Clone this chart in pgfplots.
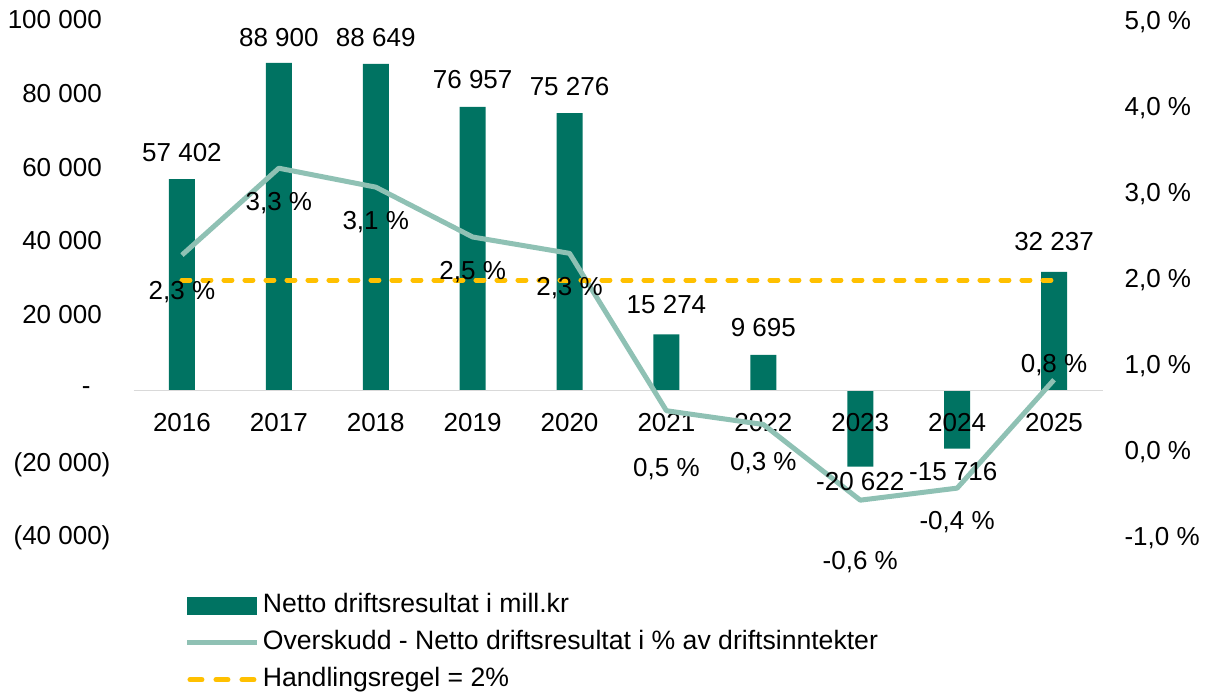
\documentclass[border=0pt]{standalone}
\usepackage{pgfplots}
\pgfplotsset{compat=1.18}
\usepackage{fontspec}
\setmainfont{Liberation Sans}
\definecolor{barc}{HTML}{007362}
\definecolor{linec}{HTML}{8FC1B4}
\definecolor{yel}{HTML}{FFC000}
\definecolor{axg}{HTML}{D9D9D9}
\pgfplotsset{
  dashlegend/.style={legend image code/.code={\draw[##1, dash pattern=on 6pt off 7pt] (1.25pt,0pt) -- (35pt,0pt);}},
  barlegend/.style={legend image code/.code={\fill[barc] (0pt,-4.5pt) rectangle (35pt,4.5pt);}},
  linelegend/.style={legend image code/.code={\draw[##1] (0pt,0pt) -- (35pt,0pt);}},
}
\begin{document}
\fontsize{13pt}{15.6pt}\selectfont
\begin{tikzpicture}
\useasboundingbox (0,0) rectangle (605.5pt,346.5pt);
\begin{axis}[
  at={(66.75pt,77.5pt)}, anchor=south west,
  width=484.5pt, height=258pt, scale only axis,
  xmin=-0.5, xmax=9.5, ymin=-40000, ymax=100000,
  scaled y ticks=false,
  axis on top,
  axis x line*=middle, axis y line*=left,
  x axis line style={-, draw=axg, line width=0.9pt},
  y axis line style={draw=none},
  tick style={draw=none}, major tick length=0pt,
  xtick={0,...,9},
  xticklabels={2016,2017,2018,2019,2020,2021,2022,2023,2024,2025},
  xticklabel style={yshift=-7pt},
  ytick={-40000,-20000,0,20000,40000,60000,80000,100000},
  yticklabels={(40 000),(20 000),{-\kern10pt},{20 000\phantom{)}},{40 000\phantom{)}},{60 000\phantom{)}},{80 000\phantom{)}},{100 000\phantom{)}}},
  yticklabel style={anchor=east, xshift=-7pt},
  ybar, bar width=13pt,
  clip=false,
]
\addplot[fill=barc, draw=none] coordinates {
  (0,57402) (1,88900) (2,88649) (3,76957) (4,75276)
  (5,15274) (6,9695) (7,-20622) (8,-15716) (9,32237)};
\end{axis}
\begin{axis}[
  at={(66.75pt,77.5pt)}, anchor=south west,
  width=484.5pt, height=258pt, scale only axis,
  xmin=-0.5, xmax=9.5, ymin=-1, ymax=5,
  axis x line=none, axis y line*=right,
  y axis line style={draw=none},
  tick style={draw=none}, major tick length=0pt,
  ytick={-1,0,1,2,3,4,5},
  yticklabels={{-1,0 \%},{0,0 \%},{1,0 \%},{2,0 \%},{3,0 \%},{4,0 \%},{5,0 \%}},
  yticklabel style={anchor=west, xshift=6.5pt},
  clip=false,
  legend style={at={(0.0531,-0.108)}, anchor=north west, draw=none, fill=none,
    inner sep=0pt, outer sep=0pt, row sep=6.5pt,
    font=\fontsize{13.3pt}{16pt}\selectfont,
    nodes={inner xsep=1.5pt, inner ysep=0pt, text height=9.5pt, text depth=2.5pt},
    /tikz/every odd column/.style={column sep=0pt}},
  legend cell align=left,
]
\addlegendimage{fill=barc, draw=none, barlegend}
\addlegendentry{Netto driftsresultat i mill.kr}
\addplot[linec, line width=2.5pt, line join=round, linelegend] coordinates {
  (0,2.29) (1,3.30) (2,3.08) (3,2.50) (4,2.31)
  (5,0.48) (6,0.32) (7,-0.56) (8,-0.42) (9,0.84)};
\addlegendentry{Overskudd - Netto driftsresultat i \% av driftsinntekter}
\addplot[yel, line width=2.5pt, line cap=round, dash pattern=on 4pt off 6.5pt, dashlegend] coordinates {(0,2) (9,2)};
\addlegendentry{Handlingsregel = 2\%}
% bar value labels
\node at (axis cs:0,3.477) {57 402};
\node at (axis cs:1,4.814) {88 900};
\node at (axis cs:2,4.814) {88 649};
\node at (axis cs:3,4.326) {76 957};
\node at (axis cs:4,4.244) {75 276};
\node at (axis cs:5,1.709) {15 274};
\node at (axis cs:6,1.453) {9 695};
\node at (axis cs:7,-0.349) {-20 622};
\node at (axis cs:7.96,-0.233) {-15 716};
\node at (axis cs:9,2.453) {32 237};
% percent labels
\node at (axis cs:0,1.860) {2,3 \%};
\node at (axis cs:1,2.895) {3,3 \%};
\node at (axis cs:2,2.674) {3,1 \%};
\node at (axis cs:3,2.093) {2,5 \%};
\node at (axis cs:4,1.907) {2,3 \%};
\node at (axis cs:5,-0.198) {0,5 \%};
\node at (axis cs:6,-0.128) {0,3 \%};
\node at (axis cs:7,-1.279) {-0,6 \%};
\node at (axis cs:8,-0.814) {-0,4 \%};
\node at (axis cs:9,1.012) {0,8 \%};
\end{axis}
\end{tikzpicture}
\end{document}
